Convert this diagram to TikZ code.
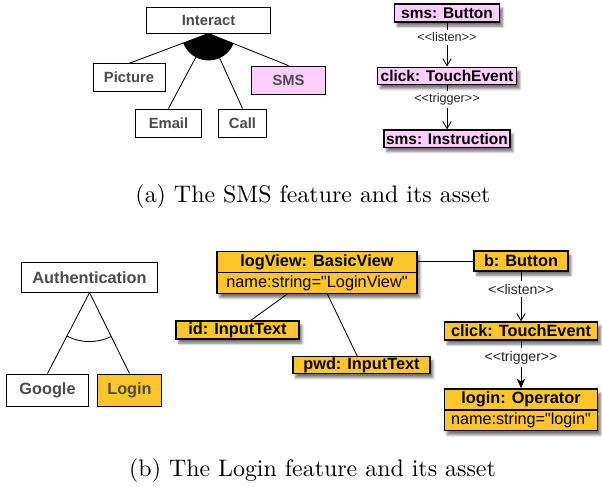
\documentclass[tikz,border=0pt]{standalone}
\usepackage{fontspec}
\newfontfamily\diafont{Liberation Sans}
\usetikzlibrary{arrows.meta,shapes.multipart,shadows.blur}
\definecolor{smspink}{RGB}{255,206,253}
\definecolor{loginorange}{RGB}{255,198,41}
\definecolor{featuretext}{RGB}{75,75,75}

\begin{document}
\begin{tikzpicture}[x=0.025cm, y=-0.025cm, node distance=1.57cm,
    feature/.style={draw, line width=0.7pt, fill=white, text=featuretext, inner sep=0pt,
      font=\diafont\fontsize{#1}{12}\selectfont\bfseries},
    feature/.default=10.5,
    object/.style={draw, line width=1pt, text=black, inner sep=0pt,
      font=\diafont\fontsize{#1}{12}\selectfont\bfseries,
      blur shadow={shadow xshift=2pt, shadow yshift=-3pt, shadow blur steps=6, shadow opacity=55}},
    object/.default=11,
    tag/.style={fill=white, text=black!85, inner xsep=4pt, inner ysep=2pt,
      font=\diafont\fontsize{#1}{11}\selectfont},
    tag/.default=9,
    conn/.style={line width=0.6pt},
    caption/.style={scale=1.7, font=\fontsize{10}{12}\selectfont}]
    \useasboundingbox (0,0) rectangle (602,486);

    % (a) feature model
    \node (interact) [feature, minimum width=3.08cm, minimum height=0.65cm] at (208.5,20) {Interact};
    \node (picture) [feature, minimum width=1.8cm, minimum height=0.68cm] at (129,77.5) {Picture};
    \node (sms) [feature, fill=smspink, minimum width=1.83cm, minimum height=0.72cm] at (288.5,80.5) {SMS};
    \node (email) [feature, minimum width=1.63cm, minimum height=0.7cm] at (168.5,123) {Email};
    \node (call) [feature, minimum width=1.18cm, minimum height=0.7cm] at (242.5,123) {Call};

    \begin{scope}
        \clip (interact.south) -- (picture.north) -- (sms.north) -- cycle;
        \fill (interact.south) circle (27);
    \end{scope}
    \foreach \child in {picture, email, call, sms}
        \draw[conn] (interact.south) -- (\child.north);

    % (a) asset
    \node (smsbutton) [object, fill=smspink, minimum width=2.63cm, minimum height=0.45cm] at (447,13) {sms: Button};
    \node (smsclick) [object, fill=smspink, minimum width=3.48cm, minimum height=0.43cm, below of=smsbutton] {click: TouchEvent};
    \node (smsinstr) [object, fill=smspink, minimum width=3.15cm, minimum height=0.43cm, below of=smsclick] {sms: Instruction};

    \draw[conn, -{Straight Barb[length=5pt, width=6pt]}] (smsbutton) -- node[tag, pos=0.33] {<<listen>>} (smsclick);
    \draw[conn, -{Straight Barb[length=5pt, width=6pt]}] (smsclick) -- node[tag, pos=0.33] {<<trigger>>} (smsinstr);

    \node (captiona) [caption] at (313,197) {(a) The SMS feature and its asset};

    % (b) feature model
    \node (auth) [feature=11.6, minimum width=3.38cm, minimum height=0.73cm] at (89.5,277.5) {Authentication};
    \node (google) [feature=11.6, minimum width=2.03cm, minimum height=0.8cm] at (47.5,390) {Google};
    \node (login) [feature=11.6, fill=loginorange, minimum width=1.58cm, minimum height=0.8cm] at (129.5,390) {Login};

    \draw[conn] (auth.south) -- (google.north);
    \draw[conn] (auth.south) -- (login.north);
    \draw[conn] (auth.south) ++(117:49) arc[start angle=117, end angle=64, radius=49];

    % (b) asset
    \node (logview) [object=11.6, fill=loginorange, rectangle split, rectangle split parts=2,
        minimum width=5cm, inner ysep=1.5pt] at (317,272.5)
        {logView: BasicView\nodepart{second}\diafont\mdseries\fontsize{11.6}{13}\selectfont name:string="LoginView"};
    \node (idtext) [object=11.6, fill=loginorange, minimum width=3.08cm, minimum height=0.45cm] at (237.5,330) {id: InputText};
    \node (pwdtext) [object=11.6, fill=loginorange, minimum width=3.43cm, minimum height=0.42cm] at (361.5,365) {pwd: InputText};

    \draw[conn] (logview) -- (idtext);
    \draw[conn] (logview) -- (pwdtext);

    \node (bbutton) [object=11.6, fill=loginorange, minimum width=2.35cm, minimum height=0.5cm] at (521,261) {b: Button};
    \node (bclick) [object=11.6, fill=loginorange, minimum width=3.83cm, minimum height=0.45cm, below of=bbutton, node distance=1.75cm] {click: TouchEvent};
    \node (loginop) [object=11.6, fill=loginorange, rectangle split, rectangle split parts=2,
        minimum width=3.83cm, inner ysep=1.5pt, below of=bclick, node distance=1.97cm]
        {login: Operator\nodepart{second}\diafont\mdseries\fontsize{11.5}{13}\selectfont name:string="login"};

    \draw[conn] (bbutton.west) -- (bbutton.west -| logview.east);
    \draw[conn, -{Straight Barb[length=5pt, width=6pt]}] (bbutton) -- node[tag=10, pos=0.35] {<<listen>>} (bclick);
    \draw[conn, -{Stealth[length=7pt, width=6pt]}] (bclick) -- node[tag=10, pos=0.35] {<<trigger>>} (loginop);

    \node (captionb) [caption] at (312.5,471) {(b) The Login feature and its asset};
\end{tikzpicture}
\end{document}
